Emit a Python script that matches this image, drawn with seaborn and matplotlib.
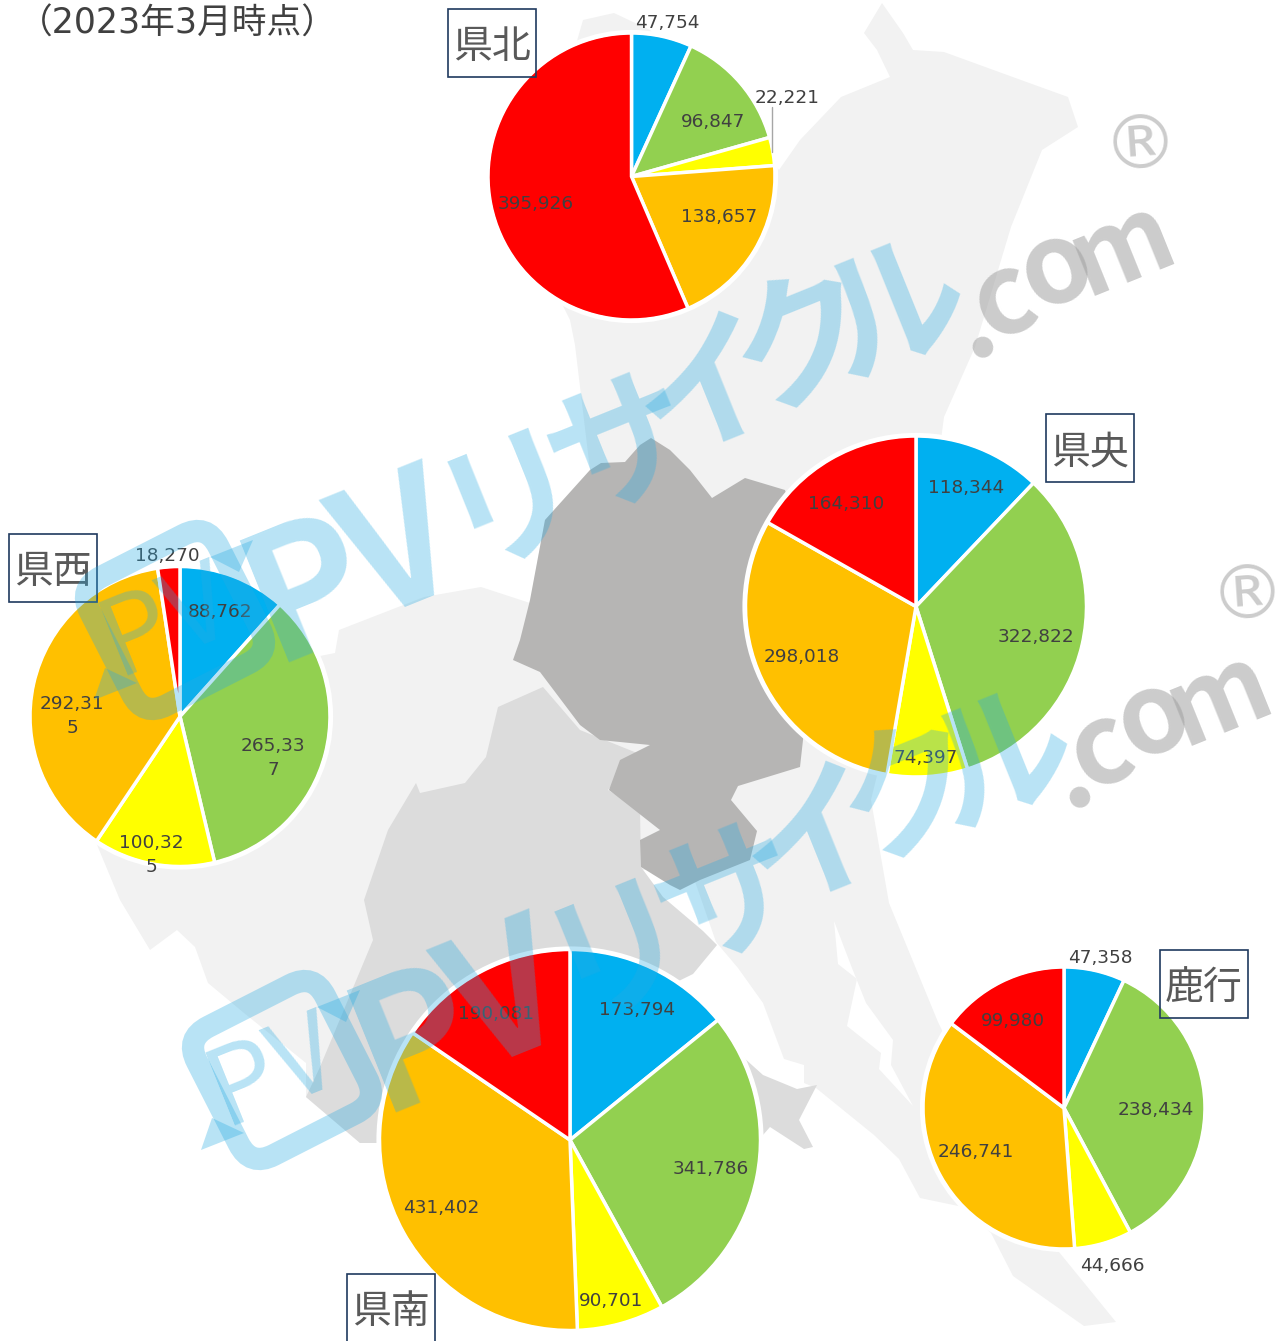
import matplotlib
matplotlib.use("Agg")
import matplotlib.pyplot as plt
import matplotlib.patches as mp
from matplotlib.transforms import Affine2D
import seaborn as sns

W, H = 1287, 1341
sns.set_theme(style="white")
plt.rcParams['font.family'] = ['DejaVu Sans', 'Noto Sans CJK JP']

# data (clockwise from 12 o'clock): blue, green, yellow, orange, red
kenpoku = [47754, 96847, 22221, 138657, 395926]
kenou = [118344, 322822, 74397, 298018, 164310]
kensei = [88762, 265337, 100325, 292315, 18270]
kennan = [173794, 341786, 90701, 431402, 190081]
rokko = [47358, 238434, 44666, 246741, 99980]
region_names = ["県北", "県央", "県西", "県南", "鹿行"]
title = "（2023年3月時点）"
palette = sns.color_palette(["#00B0F0", "#92D050", "#FFFF00", "#FFC000", "#FF0000"])

# layout in image pixels
pies = [
    (kenpoku, 631.5, 176.5, 143.5, [(667, 23), (713, 122), (787, 98), (719, 217), (536, 204)], (492, 43, 88, 68)),
    (kenou, 916, 606.5, 170.5, [(966, 488), (1036, 637), (926, 758), (802, 657), (846, 504)], (1090, 448, 88, 68)),
    (kensei, 180, 716.5, 150, [(220, 612), (273, 758), (151, 855), (72, 716), (167, 556)], (53, 568, 88, 68)),
    (kennan, 570, 1140, 190.5, [(637, 1010), (711, 1169), (611, 1301), (441, 1208), (496, 1014)], (391, 1308, 88, 68)),
    (rokko, 1064, 1108, 141, [(1100, 958), (1156, 1110), (1112, 1266), (976, 1152), (1013, 1021)], (1204, 984, 88, 68)),
]
light_map = [(583, 20), (614, 13), (650, 30), (779, 170), (800, 140), (841, 97), (890, 77), (877, 50), (864, 33),
             (882, 3), (903, 33), (913, 50), (944, 52), (1021, 80), (1068, 97), (1078, 127), (1042, 150), (1011, 227),
             (975, 347), (944, 417), (920, 600), (871, 800), (889, 903), (938, 1022), (1000, 1150), (1059, 1252),
             (1116, 1322), (1084, 1326), (1013, 1276), (991, 1233), (963, 1207), (920, 1198), (899, 1159), (874, 1135),
             (816, 1088), (804, 1083), (804, 1065), (784, 1059), (763, 1003), (738, 968), (716, 942), (691, 870),
             (641, 870), (600, 1000), (382, 1143), (360, 1143), (306, 1097), (306, 1063), (244, 1013), (208, 983),
             (195, 947), (177, 930), (150, 950), (120, 900), (95, 840), (100, 700), (335, 653), (339, 630), (424, 597),
             (481, 587), (530, 603), (545, 520), (590, 470), (575, 345), (570, 320), (560, 300), (560, 100)]
river = [(834, 921), (838, 964), (857, 979), (847, 1026), (881, 1053), (879, 1069), (913, 1106), (891, 1065),
         (893, 1040), (866, 1003), (852, 968)]
south_map = [(498, 707), (543, 687), (580, 730), (637, 753), (608, 790), (640, 810), (641, 867), (663, 897), (703, 931),
             (717, 945), (693, 974), (640, 1000), (500, 1150), (382, 1143), (360, 1143), (306, 1097), (320, 1067),
             (373, 940), (364, 900), (388, 830), (416, 783), (420, 793), (465, 783), (486, 757)]
south_lobe = [(743, 1057), (763, 1075), (797, 1089), (817, 1085), (799, 1120), (813, 1147), (804, 1149), (770, 1127),
              (763, 1135), (745, 1130)]
central_map = [(640, 445), (651, 438), (670, 450), (690, 470), (712, 498), (745, 478), (785, 490), (820, 600), (803, 740),
               (800, 767), (738, 786), (731, 800), (757, 831), (750, 860), (700, 880), (680, 890), (670, 885), (641, 867),
               (640, 840), (660, 830), (609, 790), (620, 760), (650, 745), (600, 740), (580, 725), (540, 672), (513, 660),
               (520, 640), (530, 600), (545, 520), (590, 470), (601, 463), (625, 462)]
# watermark glyphs: text, centre, size
mark_glyphs = [("P", 308, 592, 128), ("V", 400, 553, 128), ("リ", 512, 498, 104), ("サ", 622, 450, 104),
               ("イ", 708, 392, 104), ("ク", 805, 345, 104), ("ル", 895, 312, 104)]
com_glyphs = [(".", 973, 322, 80), ("c", 1003, 300, 80), ("o", 1056, 268, 80), ("m", 1122, 248, 76)]
arrow_a = [(360, 990), (346, 1022), (317, 1007)]
arrow_b = [(201, 1150), (212, 1118), (244, 1133)]

fig = plt.figure(figsize=(W / 100, H / 100), dpi=100, facecolor="white")
ax = fig.add_axes([0, 0, 1, 1])

def yy(y):
    return H - y

def poly(points, color, z=1, alpha=None):
    ax.add_patch(mp.Polygon([(x, yy(y)) for x, y in points], closed=True, fc=color, ec="none", zorder=z, alpha=alpha))

poly(light_map, "#F2F2F2", 1)
poly(river, "#FFFFFF", 1.1)
poly(south_map, "#DCDCDC", 1.2)
poly(south_lobe, "#DCDCDC", 1.2)
poly(central_map, "#B6B5B4", 1.3)

for values, cx, cy, r, label_pos, (bx, by, bw, bh) in pies:
    wedges, _ = ax.pie(values, colors=palette, startangle=90, counterclock=False, center=(cx, yy(cy)), radius=r, frame=True,
                       wedgeprops=dict(edgecolor="white", linewidth=2.5))
    for w in wedges:
        w.set_zorder(3)
    ax.add_patch(mp.Circle((cx, yy(cy)), r + 1, fc="none", ec="white", lw=3, zorder=3.2))
    wrap = values is kensei
    for v, (tx, ty) in zip(values, label_pos):
        s = f"{v:,}"
        if wrap and v >= 100000:
            s = s[:-1] + "\n" + s[-1]
        ax.text(tx, yy(ty), s, ha="center", va="center", fontsize=13.3, color="#404040", linespacing=1.45, zorder=6)

ax.plot([772, 772], [yy(107), yy(152)], color="#A6A6A6", lw=1, zorder=6)

for name, p in zip(region_names, pies):
    bx, by, bw, bh = p[5]
    ax.add_patch(mp.Rectangle((bx - bw / 2, yy(by + bh / 2)), bw, bh, fc="none", ec="#1F3A5F", lw=1.2, zorder=7))
    ax.text(bx, yy(by + 4), name, ha="center", va="center", fontsize=28, color="#595959",
            family="Noto Sans CJK JP", zorder=7)

ax.text(18, yy(24), title, ha="left", va="center", fontsize=25, color="#404040", zorder=7)

# watermarks
blue = "#29ABE2"
grey = "#9A9A9A"
rot = 22
for dx, dy, com_dx in [(0, 0, 0), (107, 450, 97)]:
    for g, gx, gy, size in mark_glyphs:
        ax.text(gx + dx, yy(gy + dy), g, color=blue, alpha=0.33, fontsize=size, rotation=rot, rotation_mode="anchor",
                ha="center", va="center", family="Noto Sans CJK JP", fontweight="bold", zorder=8)
    for g, gx, gy, size in com_glyphs:
        ax.text(gx + com_dx, yy(gy + dy), g, color=grey, alpha=0.5, fontsize=size, rotation=rot, rotation_mode="anchor",
                ha="center", va="center", family="Noto Sans CJK JP", fontweight="bold", zorder=8)
    ax.text(1141 + dx, yy(147 + dy), "®", color=grey, alpha=0.5, fontsize=54, rotation=4, ha="center", va="center",
            rotation_mode="anchor", zorder=8)
    tr = Affine2D().rotate_deg_around(175 + dx, yy(620 + dy), 27) + ax.transData
    ax.add_patch(mp.FancyBboxPatch((103 + dx, yy(692 + dy)), 144, 144, boxstyle="round,pad=0,rounding_size=26", fc="none",
                                   ec=blue, alpha=0.33, lw=16, transform=tr, zorder=8))
    ax.text(166 + dx, yy(622 + dy), "PV", color=blue, alpha=0.33, fontsize=78, rotation=rot, ha="center", va="center",
            rotation_mode="anchor", family="Noto Sans CJK JP", zorder=8)
    poly([(x - 107 + dx, y - 450 + dy) for x, y in arrow_a], blue, 8, 0.33)
    poly([(x - 107 + dx, y - 450 + dy) for x, y in arrow_b], blue, 8, 0.33)

ax.set_xlim(0, W)
ax.set_ylim(0, H)
ax.set_aspect("auto")
ax.axis("off")
fig.savefig("out.png", dpi=100, facecolor="white")
